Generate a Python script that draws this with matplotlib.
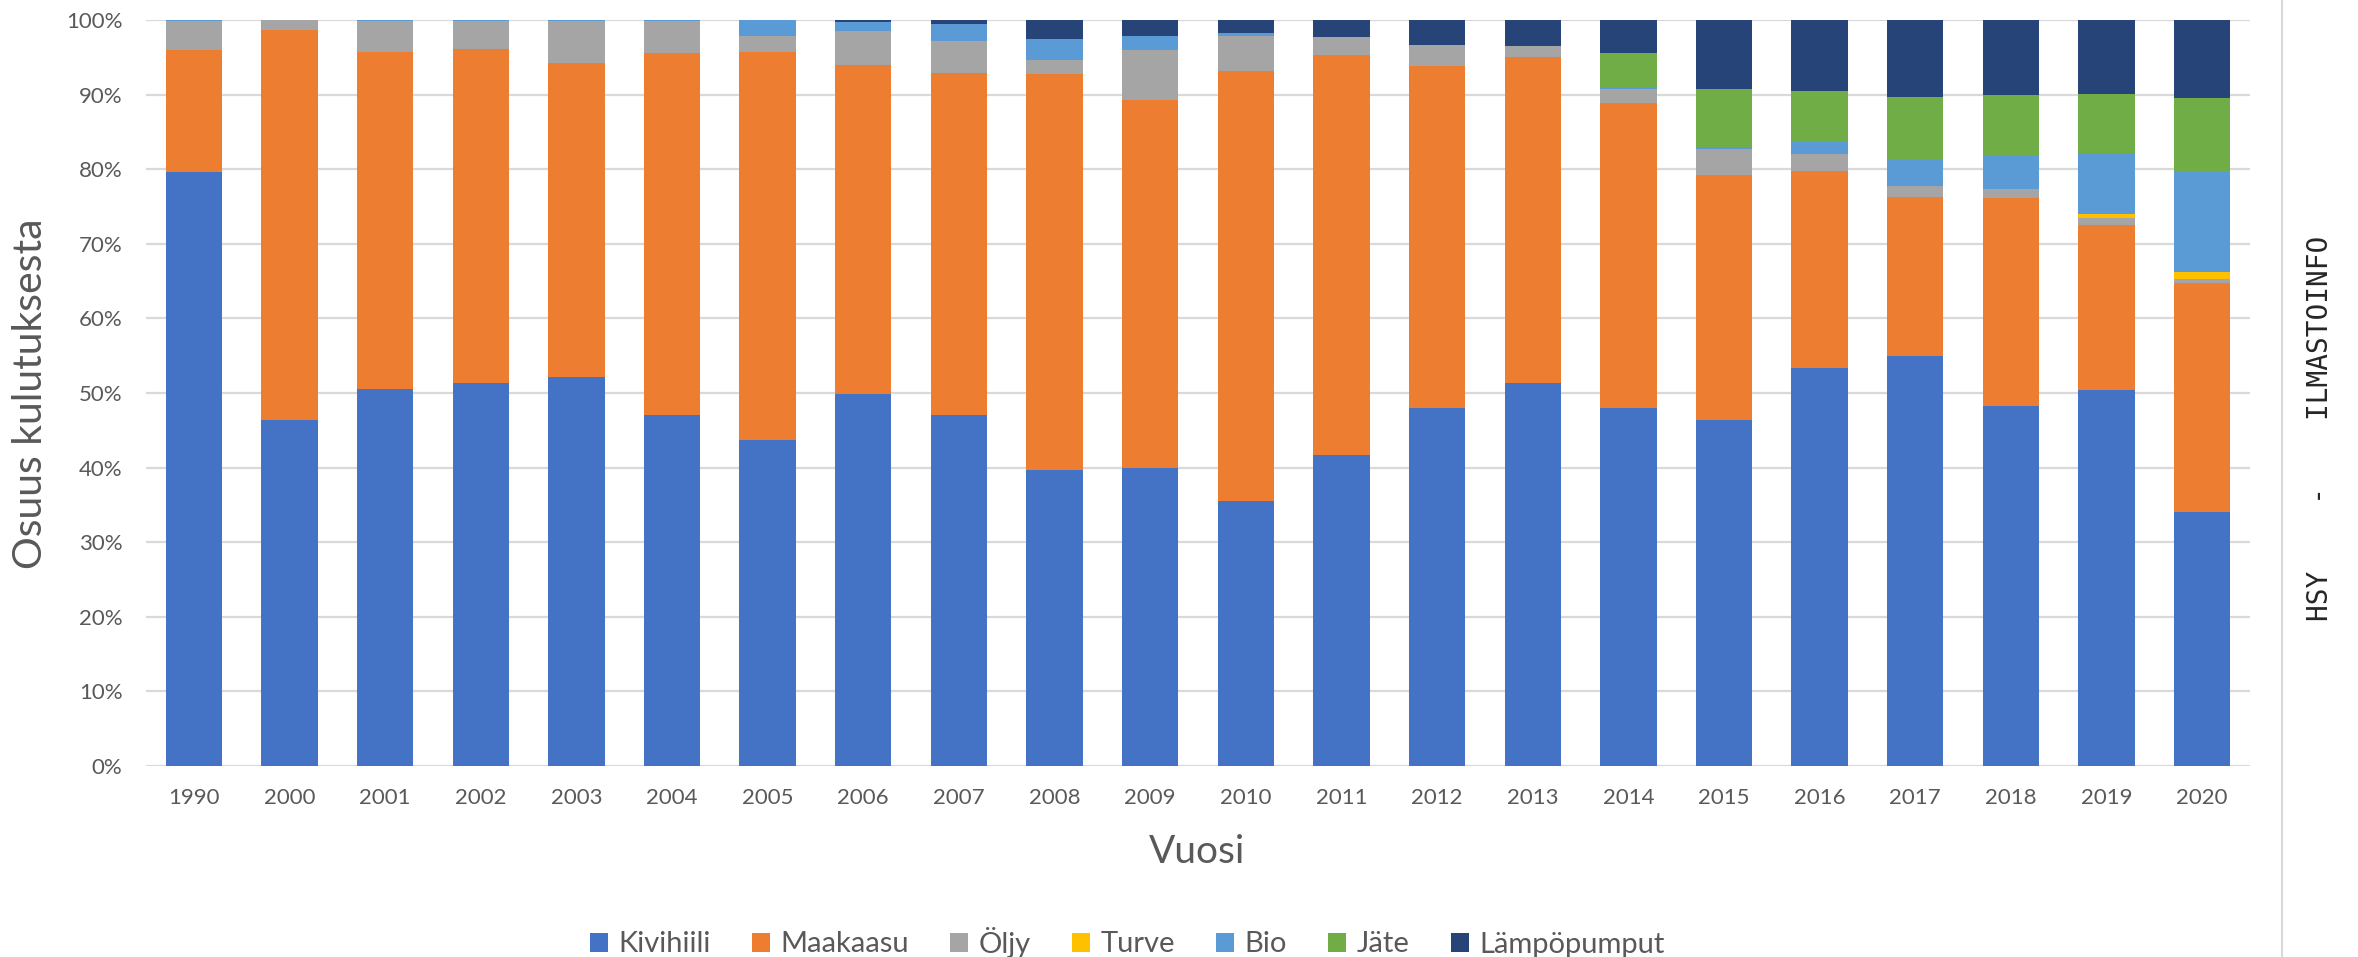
import matplotlib
matplotlib.use("Agg")
import matplotlib.pyplot as plt
import numpy as np
from matplotlib.ticker import PercentFormatter

years = ["1990", "2000", "2001", "2002", "2003", "2004", "2005", "2006", "2007", "2008", "2009",
         "2010", "2011", "2012", "2013", "2014", "2015", "2016", "2017", "2018", "2019", "2020"]

kivihiili = [79.6, 46.4, 50.5, 51.4, 52.1, 47.1, 43.7, 49.8, 47.1, 39.7, 40.0,
             35.5, 41.7, 48.0, 51.4, 48.0, 46.4, 53.4, 54.9, 48.2, 50.4, 34.0]
maakaasu = [16.4, 52.3, 45.25, 44.7, 42.2, 48.5, 52.05, 44.2, 45.75, 53.0, 49.3,
            57.7, 53.6, 45.8, 43.6, 40.9, 32.8, 26.4, 21.4, 28.0, 22.1, 30.7]
oljy = [3.85, 1.3, 4.05, 3.75, 5.5, 4.2, 2.05, 4.5, 4.35, 1.95, 6.7,
        4.7, 2.45, 2.9, 1.5, 1.85, 3.5, 2.3, 1.5, 1.2, 1.0, 0.6]
turve = [0, 0, 0, 0, 0, 0, 0, 0, 0, 0, 0,
         0, 0, 0, 0, 0, 0, 0, 0, 0, 0.5, 0.9]
bio = [0.15, 0, 0.2, 0.15, 0.2, 0.2, 2.2, 1.2, 2.2, 2.75, 1.9,
       0.4, 0, 0, 0, 0.15, 0.2, 1.6, 3.4, 4.5, 8.0, 13.4]
jate = [0, 0, 0, 0, 0, 0, 0, 0, 0, 0, 0,
        0, 0, 0, 0, 4.7, 7.8, 6.8, 8.5, 8.0, 8.1, 10.0]
lampopumput = [0, 0, 0, 0, 0, 0, 0, 0.3, 0.6, 2.6, 2.1,
               1.7, 2.25, 3.3, 3.5, 4.4, 9.3, 9.5, 10.3, 10.1, 9.9, 10.4]

series = [
    ("Kivihiili", kivihiili, "#4472C4"),
    ("Maakaasu", maakaasu, "#ED7D31"),
    ("Öljy", oljy, "#A5A5A5"),
    ("Turve", turve, "#FFC000"),
    ("Bio", bio, "#5B9BD5"),
    ("Jäte", jate, "#70AD47"),
    ("Lämpöpumput", lampopumput, "#264478"),
]

W, H = 2358, 957
fig = plt.figure(figsize=(W / 100, H / 100), dpi=100)
ax = fig.add_axes([146 / W, 1 - 766 / H, (2250 - 146) / W, (766 - 20) / H])

x = np.arange(len(years))
bottom = np.zeros(len(years))
for name, vals, col in series:
    v = np.array(vals, dtype=float)
    ax.bar(x, v, width=0.59, bottom=bottom, color=col, label=name, zorder=3, linewidth=0)
    bottom += v

ax.set_xlim(-0.5, len(years) - 0.5)
ax.set_ylim(0, 100)
ax.set_yticks(np.arange(0, 101, 10))
ax.yaxis.set_major_formatter(PercentFormatter(decimals=0))
ax.set_xticks(x)
ax.set_xticklabels(years)
ax.grid(axis="y", color="#D9D9D9", linewidth=1.6, zorder=0)
ax.set_axisbelow(True)
for s in ax.spines.values():
    s.set_visible(False)
ax.tick_params(axis="both", length=0, colors="#595959", labelsize=16)
ax.tick_params(axis="y", pad=17)
ax.tick_params(axis="x", pad=16)
for lab in ax.get_xticklabels() + ax.get_yticklabels():
    lab.set_fontfamily("Lato")

fig.text(31 / W, 1 - 394 / H, "Osuus kulutuksesta", rotation=90, ha="center", va="center",
         fontsize=29.5, color="#595959", family="Lato")
fig.text(1197 / W, 1 - 852 / H, "Vuosi", ha="center", va="center",
         fontsize=28, color="#595959", family="Lato")

leg = fig.legend(loc="center", bbox_to_anchor=(1127 / W, 1 - 942 / H), ncol=7, frameon=False,
                 prop={"family": "Lato", "size": 21}, handlelength=0.62, handleheight=0.62,
                 handletextpad=0.35, columnspacing=1.42, labelcolor="#595959",
                 borderpad=0.1)

# right side separator and vertical credit text
fig.add_artist(plt.Line2D([2282 / W, 2282 / W], [0, 1], color="#D9D9D9", linewidth=1.5,
                          transform=fig.transFigure))
fig.text(2320 / W, 1 - 428 / H, "HSY    -    ILMASTOINFO", rotation=90, ha="center", va="center",
         fontsize=20, color="#262626", family="DejaVu Sans Mono")

fig.savefig("out.png", dpi=100, facecolor="white")
